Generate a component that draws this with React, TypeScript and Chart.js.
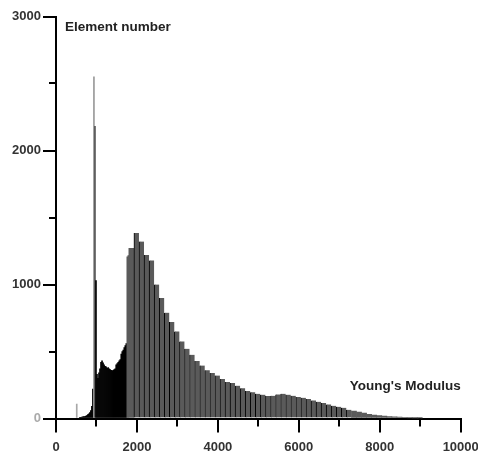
import React, { useEffect, useRef } from "react";
import { Chart, registerables } from "chart.js";

Chart.register(...registerables);

// Fine histogram bins (width 25) – low-modulus part
const FINE_WIDTH = 25;
const fineBinStarts = [
  500, 525, 550, 575, 600, 625, 650, 675, 700, 725, 750, 775, 800, 825, 850, 875,
  900, 925, 950, 975, 1000, 1025, 1050, 1075, 1100, 1125, 1150, 1175, 1200, 1225,
  1250, 1275, 1300, 1325, 1350, 1375, 1400, 1425, 1450, 1475, 1500, 1525, 1550,
  1575, 1600, 1625, 1650, 1675, 1700, 1725, 1750, 1775,
];
const fineCounts = [
  107, 0, 0, 5, 8, 10, 12, 14, 15, 18, 22, 30, 35, 45, 60, 90,
  220, 2550, 2180, 1030, 330, 300, 340, 370, 420, 430, 415, 400, 390, 385,
  375, 380, 370, 365, 360, 355, 360, 365, 370, 400, 410, 420, 430,
  440, 480, 500, 510, 530, 545, 560, 1206, 1215,
];

// Coarse histogram bins (width 125) – main body and tail
const COARSE_WIDTH = 125;
const coarseBinStarts = [
  1800, 1925, 2050, 2175, 2300, 2425, 2550, 2675, 2800, 2925, 3050, 3175, 3300,
  3425, 3550, 3675, 3800, 3925, 4050, 4175, 4300, 4425, 4550, 4675, 4800, 4925,
  5050, 5175, 5300, 5425, 5550, 5675, 5800, 5925, 6050, 6175, 6300, 6425, 6550,
  6675, 6800, 6925, 7050, 7175, 7300, 7425, 7550, 7675, 7800, 7925, 8050, 8175,
  8300, 8425, 8550, 8675, 8800, 8925,
];
const coarseCounts = [
  1270, 1385, 1320, 1220, 1180, 1000, 900, 790, 720, 650, 575, 520, 475,
  430, 395, 360, 340, 320, 295, 272, 265, 245, 225, 205, 195, 185,
  178, 168, 170, 180, 185, 178, 170, 160, 155, 145, 135, 125, 115,
  105, 95, 88, 80, 65, 55, 48, 40, 32, 26, 22, 18, 15,
  12, 10, 7, 5, 3, 2,
];

const yTicks = [0, 1000, 2000, 3000];
const yMinorTicks = [500, 1500, 2500];
const xTicks = [0, 2000, 4000, 6000, 8000, 10000];
const xMinorTicks = [1000, 3000, 5000, 7000, 9000];
const yTitle = "Element number";
const xTitle = "Young's Modulus";

const FONT = "'Liberation Sans', Arial, sans-serif";

export default function App() {
  const canvasRef = useRef<HTMLCanvasElement | null>(null);

  useEffect(() => {
    document.body.style.margin = "0";
    const canvas = canvasRef.current;
    if (!canvas) return;
    Chart.defaults.font.family = FONT;

    const decor = {
      id: "decor",
      afterDraw(chart: any) {
        const { ctx, chartArea, scales } = chart;
        ctx.save();
        ctx.strokeStyle = "#000";
        ctx.lineWidth = 2;
        yMinorTicks.forEach((v) => {
          const y = Math.round(scales.y.getPixelForValue(v));
          ctx.beginPath();
          ctx.moveTo(chartArea.left - 7, y);
          ctx.lineTo(chartArea.left, y);
          ctx.stroke();
        });
        xMinorTicks.forEach((v) => {
          const x = Math.round(scales.x.getPixelForValue(v));
          ctx.beginPath();
          ctx.moveTo(x, chartArea.bottom);
          ctx.lineTo(x, chartArea.bottom + 8);
          ctx.stroke();
        });
        ctx.fillStyle = "#222";
        ctx.font = `bold 13.5px ${FONT}`;
        ctx.textBaseline = "middle";
        ctx.textAlign = "left";
        ctx.fillText(yTitle, chartArea.left + 9, chartArea.top + 11);
        ctx.textAlign = "right";
        ctx.fillText(xTitle, chartArea.right, chartArea.bottom - 32);
        ctx.restore();
      },
    };

    const plainLabel = (v: any) => String(v);

    const chart = new Chart(canvas, {
      type: "bar",
      data: {
        datasets: [
          {
            data: fineBinStarts.map((s, i) => ({ x: s + FINE_WIDTH / 2, y: fineCounts[i] })),
            xAxisID: "x",
            backgroundColor: (c: any) => {
              const x = c.raw ? c.raw.x : 0;
              const y = c.raw ? c.raw.y : 0;
              if (x >= 1750) return "#5a5a5a";
              if (x < 525) return "#a8a8a8";
              if (y >= 2500) return "#9a9a9a";
              if (y >= 2000) return "#555";
              return "#000";
            },
            borderWidth: 0,
            barPercentage: 1,
            categoryPercentage: 1,
            grouped: false,
          } as any,
          {
            data: coarseBinStarts.map((s, i) => ({ x: s + COARSE_WIDTH / 2, y: coarseCounts[i] })),
            xAxisID: "x2",
            backgroundColor: "#5a5a5a",
            borderColor: "#000",
            borderWidth: (c: any) => {
              const x = c.raw ? c.raw.x : 0;
              if (c.dataIndex > 0 && x < 7300) return { left: 1, right: 0, top: 0, bottom: 0 };
              return 0;
            },
            barPercentage: 1,
            categoryPercentage: 1,
            grouped: false,
          } as any,
        ],
      },
      options: {
        animation: false,
        responsive: true,
        maintainAspectRatio: false,
        layout: { padding: { top: 16.5, right: 17.3, left: 0, bottom: 0 } },
        plugins: { legend: { display: false }, tooltip: { enabled: false } },
        scales: {
          x: {
            type: "linear",
            min: 0,
            max: 10000,
            offset: false,
            position: "bottom",
            afterBuildTicks: (s: any) => {
              s.ticks = xTicks.map((v) => ({ value: v }));
            },
            afterFit: (s: any) => {
              s.height = 38.5;
              s.paddingRight = 0;
              s.paddingLeft = 0;
            },
            ticks: {
              font: { size: 13, weight: "bold" },
              color: "#333",
              padding: 7,
              maxRotation: 0,
              autoSkip: false,
              callback: plainLabel,
            },
            grid: {
              offset: false,
              drawOnChartArea: false,
              tickLength: 14,
              tickWidth: 2,
              lineWidth: 2,
              tickColor: "#000",
            },
            border: { color: "#000", width: 2 },
          },
          x2: {
            type: "linear",
            min: 0,
            max: 10000,
            offset: false,
            position: "bottom",
            display: false,
            grid: { offset: false },
          },
          y: {
            type: "linear",
            min: 0,
            max: 3000,
            afterBuildTicks: (s: any) => {
              s.ticks = yTicks.map((v) => ({ value: v }));
            },
            afterFit: (s: any) => {
              s.width = 56;
            },
            ticks: {
              font: { size: 13, weight: "bold" },
              color: (c: any) => (c.tick && c.tick.value === 0 ? "#aaa" : "#333"),
              padding: 2,
              callback: plainLabel,
            },
            grid: {
              drawOnChartArea: false,
              tickLength: 13,
              tickWidth: 2,
              lineWidth: 2,
              tickColor: "#000",
            },
            border: { color: "#000", width: 2 },
          },
        },
      } as any,
      plugins: [decor],
    });

    return () => chart.destroy();
  }, []);

  return (
    <div style={{ position: "relative", width: 478, height: 457 }}>
      <canvas ref={canvasRef} />
    </div>
  );
}
